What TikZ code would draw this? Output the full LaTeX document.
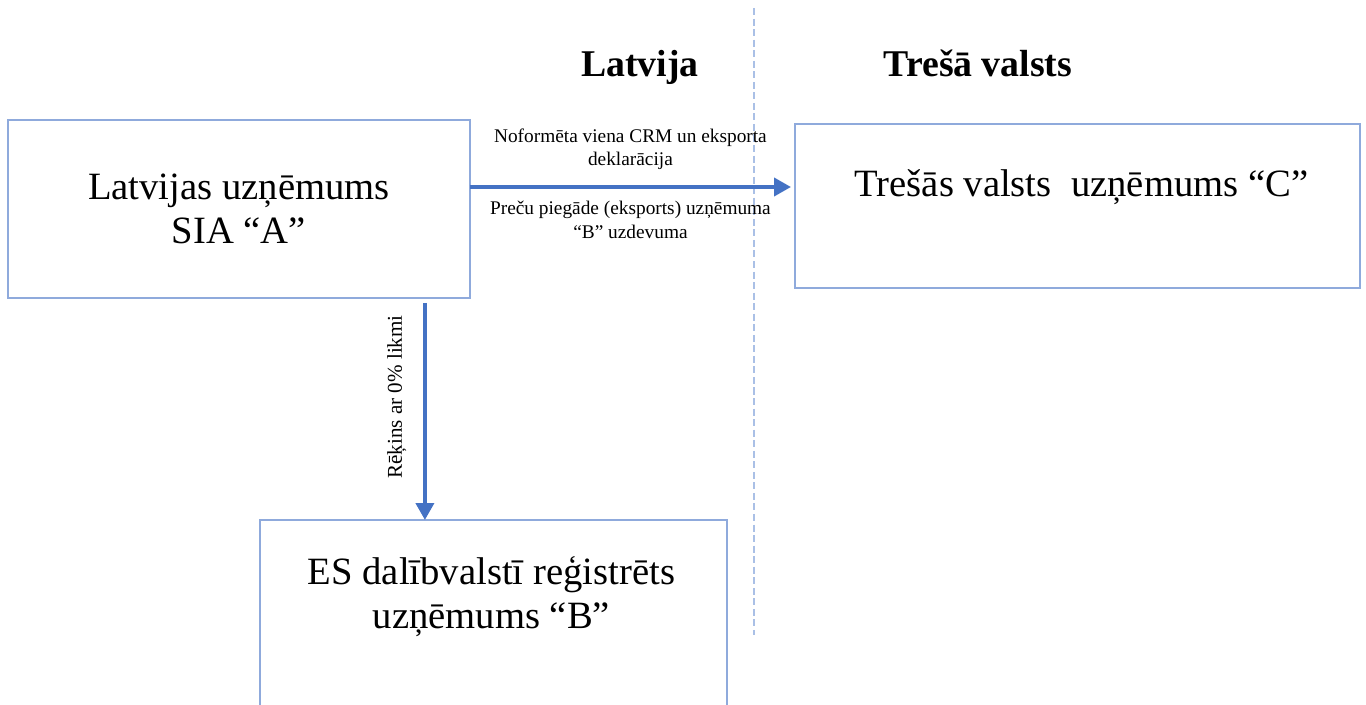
\documentclass[tikz,border=0pt]{standalone}
\usepackage{fontspec}
\setmainfont{Liberation Serif}
\usepackage{tikz}
\usetikzlibrary{arrows.meta}
\usetikzlibrary{positioning}
\usetikzlibrary{calc}

\definecolor{boxblue}{RGB}{143,170,220}
\definecolor{arrowblue}{RGB}{68,114,196}
\definecolor{lineblue}{RGB}{170,192,230}

\tikzset{
    firmbox/.style={draw=boxblue, line width=1.1pt, inner sep=0pt, outer sep=0pt},
    bigtext/.style={font=\fontsize{22}{25}\selectfont, align=center},
    smalltext/.style={font=\fontsize{11}{13.5}\selectfont, align=center, inner sep=0pt},
    headtext/.style={font=\fontsize{21.5}{24}\selectfont\bfseries, anchor=base},
    flow/.style={draw=arrowblue, line width=2.2pt, -{Triangle[length=0.34cm,width=0.36cm]}},
}

\begin{document}
\begin{tikzpicture}[x=0.02cm, y=-0.02cm]
    \path[use as bounding box, clip] (0,0) rectangle (1366,705);
    \coordinate (top) at (754,8);
    \coordinate (bottom) at (754,635);
    \draw[lineblue, line width=0.8pt, dash pattern=on 4pt off 2pt] (top) -- (bottom);

    \node[headtext] (lv) at (640,77) {Latvija};
    \node[headtext] (tv) at (978,77) {Trešā valsts};

    \node[firmbox, bigtext, anchor=north west, minimum width=9.24cm, minimum height=3.56cm] (a) at (8,120) {Latvijas uzņēmums\\SIA “A”};
    \node[firmbox, anchor=north west, minimum width=11.3cm, minimum height=3.28cm] (c) at (795,124) {};
    \node[bigtext] (ctext) at ($(c.north)+(4,63)$) {Trešās valsts\ \ uzņēmums “C”};
    \node[firmbox, anchor=north west, minimum width=9.34cm, minimum height=4.4cm] (b) at (260,520) {};
    \node[bigtext] (btext) at ($(b.north)+(-2,77)$) {ES dalībvalstī reģistrēts\\uzņēmums “B”};

    \coordinate (a1) at ($(a.north east)+(0,67)$);
    \coordinate (c1) at ($(c.west |- a1)+(-4,0)$);
    \draw[flow] (a1) -- node[smalltext, above=8.6pt] (lblup) {Noformēta viena CRM un eksporta\\deklarācija}
        node[smalltext, below=7pt] (lbldown) {Preču piegāde (eksports) uzņēmuma\\“B” uzdevuma} (c1);

    \coordinate (a2) at ($(a.south east)+(-45,5)$);
    \draw[flow] (a2) -- node[smalltext, font=\fontsize{12}{14}\selectfont, pos=0.433, rotate=90, anchor=south, yshift=9.5pt] (lblinv) {Rēķins ar 0\% likmi} (a2 |- b.north);
\end{tikzpicture}
\end{document}
